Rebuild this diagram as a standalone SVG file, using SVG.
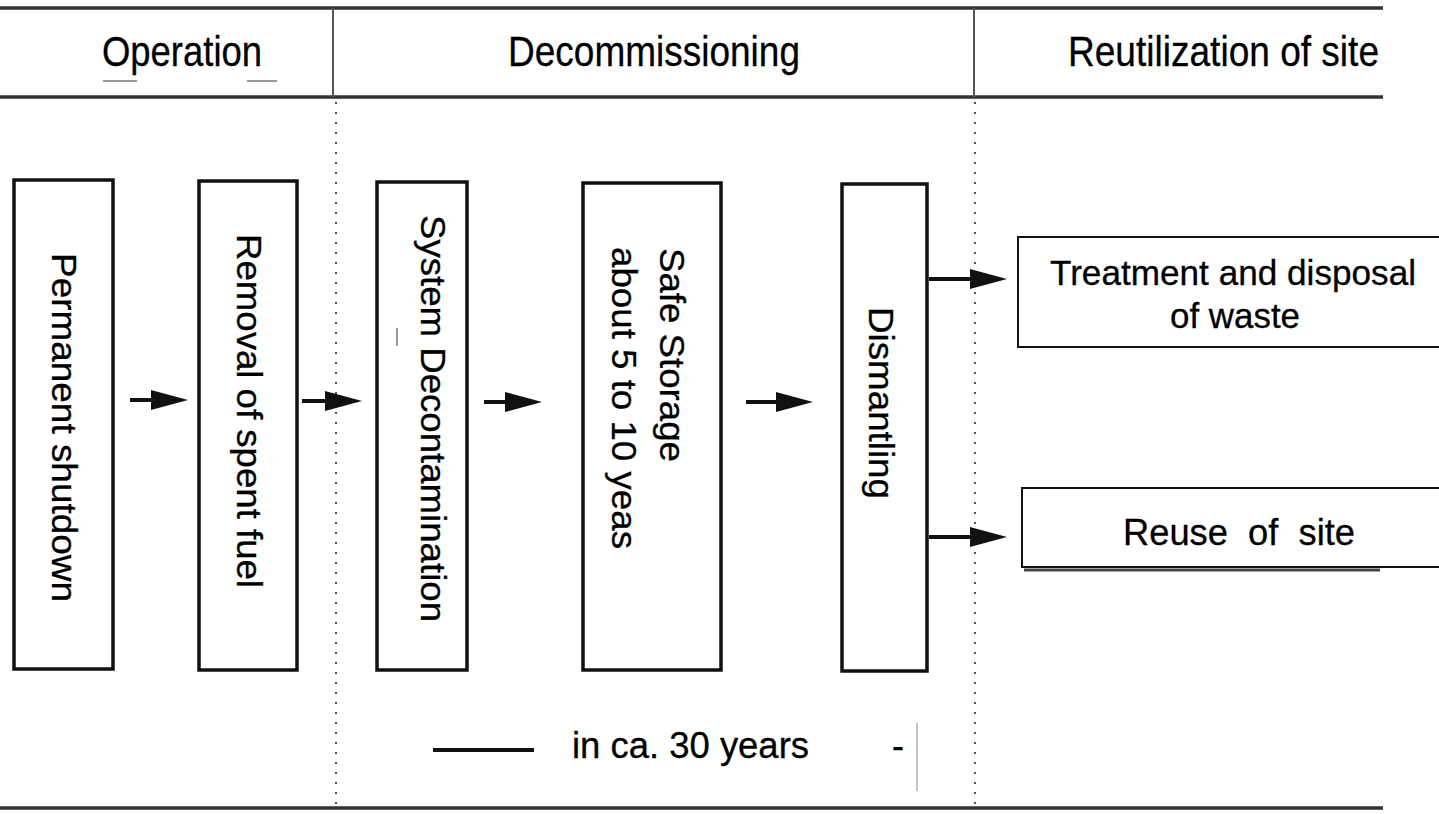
<svg xmlns="http://www.w3.org/2000/svg" width="1439" height="814" viewBox="0 0 1439 814">
<style>
  .bg { fill: #ffffff; }
  .rule { stroke: #333; stroke-width: 3.5; fill: none; }
  .sep { stroke: #555; stroke-width: 2; fill: none; }
  .dots { stroke: #555; stroke-width: 2; stroke-dasharray: 2 8; fill: none; }
  .box { fill: #ffffff; stroke: #111; stroke-width: 3.5; }
  .box2 { fill: #ffffff; stroke: #111; stroke-width: 2; }
  .txt { font-family: "Liberation Sans", Arial, Helvetica, sans-serif; fill: #000; stroke: #000; stroke-width: 0.3; }
  .hdr { font-size: 43px; }
  .vt { font-size: 35px; }
  .ht { font-size: 35px; }
  .arrow { stroke: #111; stroke-width: 4; fill: none; marker-end: url(#head); }
  .speck { stroke: #999; stroke-width: 2; fill: none; }
</style>
<defs>
  <marker id="head" markerUnits="userSpaceOnUse" markerWidth="38" markerHeight="22" refX="0" refY="10" orient="auto" overflow="visible">
    <path d="M0,0 L37,10 L0,20 Z" fill="#111"/>
  </marker>
</defs>
<rect class="bg" x="0" y="0" width="1439" height="814"/>

<g id="frame">
  <line class="rule" x1="0" y1="8" x2="1383" y2="8"/>
  <line class="rule" x1="0" y1="97" x2="1383" y2="97"/>
  <line class="rule" x1="0" y1="808" x2="1383" y2="808"/>
  <line class="sep" x1="333" y1="8" x2="333" y2="97"/>
  <line class="sep" x1="974" y1="8" x2="974" y2="97"/>
  <line class="dots" x1="336" y1="102" x2="336" y2="806"/>
  <line class="dots" x1="975" y1="102" x2="975" y2="806"/>
  <line class="speck" x1="103" y1="81" x2="137" y2="81"/>
  <line class="speck" x1="247" y1="81" x2="277" y2="81"/>
</g>

<g id="header">
  <text class="txt hdr" x="102" y="66" textLength="160" lengthAdjust="spacingAndGlyphs">Operation</text>
  <text class="txt hdr" x="508" y="66" textLength="292" lengthAdjust="spacingAndGlyphs">Decommissioning</text>
  <text class="txt hdr" x="1068" y="66" textLength="311" lengthAdjust="spacingAndGlyphs">Reutilization of site</text>
</g>

<g id="node-permanent-shutdown">
  <rect class="box" x="14" y="180" width="99" height="489"/>
  <text class="txt vt" transform="translate(52,253) rotate(90)" textLength="349" lengthAdjust="spacingAndGlyphs">Permanent shutdown</text>
</g>

<g id="node-removal-spent-fuel">
  <rect class="box" x="199" y="181" width="98" height="489"/>
  <text class="txt vt" transform="translate(237,234) rotate(90)" textLength="354" lengthAdjust="spacingAndGlyphs">Removal of spent fuel</text>
</g>

<g id="node-system-decontamination">
  <rect class="box" x="377" y="182" width="90" height="488"/>
  <text class="txt vt" transform="translate(421,215) rotate(90)" textLength="407" lengthAdjust="spacingAndGlyphs">System Decontamination</text>
  <line class="speck" x1="397" y1="328" x2="397" y2="346" stroke-width="1"/>
</g>

<g id="node-safe-storage">
  <rect class="box" x="583" y="183" width="138" height="487"/>
  <text class="txt vt" transform="translate(660,248) rotate(90)" textLength="214" lengthAdjust="spacingAndGlyphs">Safe Storage</text>
  <text class="txt vt" transform="translate(612,247) rotate(90)" textLength="302" lengthAdjust="spacingAndGlyphs">about 5 to 10 yeas</text>
</g>

<g id="node-dismantling">
  <rect class="box" x="842" y="184" width="85" height="487"/>
  <text class="txt vt" transform="translate(869,307) rotate(90)" textLength="192" lengthAdjust="spacingAndGlyphs">Dismantling</text>
</g>

<g id="node-treatment">
  <rect class="box2" x="1018" y="237" width="425" height="110"/>
  <text class="txt ht" x="1050" y="285" textLength="366" lengthAdjust="spacingAndGlyphs">Treatment and disposal</text>
  <text class="txt ht" x="1170" y="328" textLength="130" lengthAdjust="spacingAndGlyphs">of waste</text>
</g>

<g id="node-reuse">
  <line x1="1024" y1="570" x2="1380" y2="570" stroke="#444" stroke-width="3"/>
  <rect class="box2" x="1022" y="488" width="421" height="79"/>
  <text class="txt" xml:space="preserve" x="1123" y="545" font-size="36" textLength="232" lengthAdjust="spacingAndGlyphs">Reuse  of  site</text>
</g>

<g id="connectors">
  <line class="arrow" x1="130" y1="400" x2="151" y2="400"/>
  <line class="arrow" x1="302" y1="401" x2="325" y2="401"/>
  <line class="arrow" x1="484" y1="402" x2="505" y2="402"/>
  <line class="arrow" x1="746" y1="402" x2="776" y2="402"/>
  <line class="arrow" x1="929" y1="279" x2="970" y2="279"/>
  <line class="arrow" x1="929" y1="537" x2="970" y2="537"/>
</g>

<g id="duration">
  <line x1="433" y1="750" x2="534" y2="750" stroke="#111" stroke-width="4"/>
  <text class="txt" x="572" y="758" font-size="37" textLength="237" lengthAdjust="spacingAndGlyphs">in ca. 30 years</text>
  <text class="txt" x="892" y="758" font-size="36">-</text>
  <line x1="917" y1="723" x2="917" y2="791" stroke="#888" stroke-width="1"/>
</g>
</svg>
